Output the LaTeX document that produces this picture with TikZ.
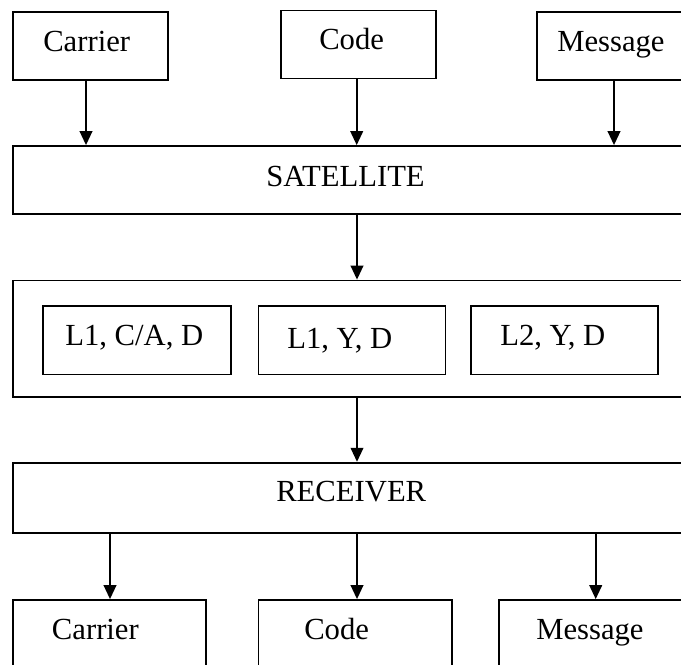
\documentclass[tikz,border=0pt]{standalone}
\usepackage{fontspec}
\setmainfont{Liberation Serif}
\usetikzlibrary{fit,arrows.meta}
\begin{document}
\begin{tikzpicture}[x=0.75pt,y=-0.75pt,
  box/.style={draw=black,line width=1.35pt,inner sep=0pt,fit={#1}},
  txt/.style={anchor=base west,inner sep=0pt,font=\fontsize{23}{27}\selectfont},
  arr/.style={line width=1.35pt,-{Triangle[length=10.5pt,width=9.5pt]}}]
\fill[white] (0,0) rectangle (681,664);
\useasboundingbox (0,0) rectangle (681,664);
\clip (0,0) rectangle (681,664);
% top sources
\node[box={(13.3,11.7) (168,80)}] (carrierT) {};
\node[box={(280.7,10.5) (435.7,78.5)}] (codeT) {};
\node[box={(536.7,11.7) (700,80)}] (messageT) {};
\node[txt] (tcarrierT) at (43,51) {Carrier};
\node[txt] (tcodeT) at (319,49) {Code};
\node[txt] (tmessageT) at (557,51) {Message};
% satellite
\node[box={(13.3,146) (700,214)}] (sat) {};
\node[txt] (tsat) at (266,186.7) {SATELLITE};
% signals
\node[box={(13.3,280.5) (700,396.7)}] (sig) {};
\node[box={(43.3,306) (230.7,374.5)}] (s1) {};
\node[box={(258.5,306) (445.5,374.5)}] (s2) {};
\node[box={(470.7,306) (658.3,374.5)}] (s3) {};
\node[txt] (ts1) at (65,345) {L1, C/A, D};
\node[txt] (ts2) at (287,348) {L1, Y, D};
\node[txt] (ts3) at (500,345.7) {L2, Y, D};
% receiver
\node[box={(13.3,462.7) (700,532.7)}] (rec) {};
\node[txt] (trec) at (276,501.7) {RECEIVER};
% bottom outputs
\node[box={(13.3,600) (206,700)}] (carrierB) {};
\node[box={(258.5,600) (451.7,700)}] (codeB) {};
\node[box={(499,600) (700,700)}] (messageB) {};
\node[txt] (tcarrierB) at (51.7,639.3) {Carrier};
\node[txt] (tcodeB) at (304,639.3) {Code};
\node[txt] (tmessageB) at (536,639.3) {Message};
% connectors
\draw[arr] (86,0 |- carrierT.south) -- (86,0 |- sat.north);
\draw[arr] (356.7,0 |- codeT.south) -- (356.7,0 |- sat.north);
\draw[arr] (614,0 |- messageT.south) -- (614,0 |- sat.north);
\draw[arr] (357,0 |- sat.south) -- (357,0 |- sig.north);
\draw[arr] (357,0 |- sig.south) -- (357,0 |- rec.north);
\draw[arr] (110,0 |- rec.south) -- (110,0 |- carrierB.north);
\draw[arr] (357,0 |- rec.south) -- (357,0 |- codeB.north);
\draw[arr] (595.7,0 |- rec.south) -- (595.7,0 |- messageB.north);
\end{tikzpicture}
\end{document}
